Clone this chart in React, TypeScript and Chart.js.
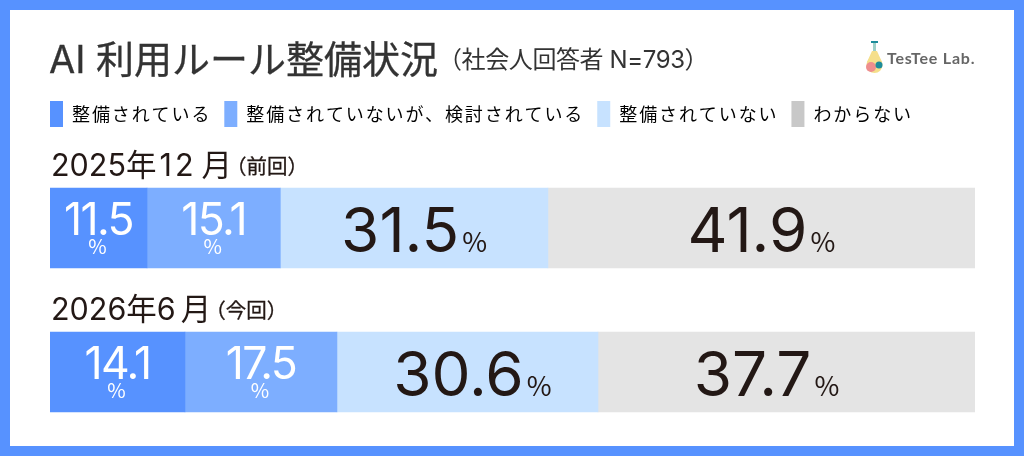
import React, { useEffect, useRef } from "react";
import { Chart, registerables } from "chart.js";

Chart.register(...registerables);

// Periods (categories)
const periods = ["2025年12月", "2026年6月"];
const periodNotes = ["（前回）", "（今回）"];
const seriesNames = ["整備されている", "整備されていないが、検討されている", "整備されていない", "わからない"];

// Segment lengths (share of the full bar, %).
// The reference's segments are not proportional to its printed figures.
const segYes = [10.49, 14.59];
const segConsidering = [14.41, 16.43];
const segNo = [28.93, 28.22];
const segUnknown = [46.17, 40.76];

// Figures printed on the bars
const printedYes = ["11.5", "14.1"];
const printedConsidering = ["15.1", "17.5"];
const printedNo = ["31.5", "30.6"];
const printedUnknown = ["41.9", "37.7"];

const barColors = ["#5792FF", "#7DAEFF", "#C7E2FF", "#E4E4E4"];
const legendColors = ["#5792FF", "#7DAEFF", "#C7E2FF", "#C8C8C8"];

const titleText = "AI 利用ルール整備状況";
const subtitleText = "（社会人回答者 N=793）";
const logoText = "TesTee Lab.";

// Horizontal nudges of the printed figures, per period and series
const labelShift = [
  [0, 0, 0, 0],
  [0, 0, 5, -20],
];

const LATIN = 'Inter, "Noto Sans CJK JP"';
const JP = '"Noto Sans CJK JP"';
const INK = "#231815";

const framePlugin = {
  id: "frame",
  beforeDraw(chart: any) {
    const { ctx, width, height } = chart;
    ctx.save();
    ctx.fillStyle = "#5792FF";
    ctx.fillRect(0, 0, width, height);
    ctx.fillStyle = "#FFFFFF";
    ctx.fillRect(10, 10, width - 20, height - 20);

    ctx.textBaseline = "alphabetic";
    ctx.textAlign = "left";
    ctx.fillStyle = "#333333";
    ctx.strokeStyle = "#333333";
    ctx.lineWidth = 0.3;
    ctx.letterSpacing = "0px";
    ctx.font = `400 38px ${LATIN}`;
    ctx.fillText(titleText, 49, 73);
    ctx.strokeText(titleText, 49, 73);
    ctx.font = `400 24px ${LATIN}`;
    ctx.letterSpacing = "-0.4px";
    ctx.fillText(subtitleText, 438, 68);
    ctx.letterSpacing = "0px";

    // logo
    ctx.fillStyle = "#1E8C9B";
    ctx.fillRect(871, 41, 7, 2);
    ctx.fillStyle = "#9FD0C8";
    ctx.fillRect(873, 43, 3, 8);
    ctx.fillStyle = "#F5DF8B";
    ctx.beginPath();
    ctx.moveTo(872, 51);
    ctx.lineTo(877, 51);
    ctx.lineTo(882, 62);
    ctx.lineTo(867, 62);
    ctx.fill();
    ctx.beginPath();
    ctx.arc(874.5, 65, 8, 0, Math.PI * 2);
    ctx.fill();
    ctx.fillStyle = "#EE8E8E";
    ctx.beginPath();
    ctx.arc(871, 67, 5, 0, Math.PI * 2);
    ctx.fill();
    ctx.fillStyle = "#1E8C9B";
    ctx.beginPath();
    ctx.arc(879, 65, 3.5, 0, Math.PI * 2);
    ctx.fill();
    ctx.fillStyle = "#666666";
    ctx.font = `700 16px Lato`;
    ctx.letterSpacing = "0.8px";
    ctx.fillText(logoText, 887, 64);
    ctx.restore();

    // Legend text is spaced out in the reference
    ctx.letterSpacing = "1.9px";
  },
  beforeLayout(chart: any) {
    chart.ctx.letterSpacing = "1.9px";
  },
  afterDatasetsDraw(chart: any) {
    const { ctx } = chart;
    const printed = [printedYes, printedConsidering, printedNo, printedUnknown];
    ctx.save();
    ctx.letterSpacing = "0px";
    ctx.textBaseline = "alphabetic";
    printed.forEach((values, s) => {
      const meta = chart.getDatasetMeta(s);
      values.forEach((text, i) => {
        const bar = meta.data[i] as any;
        const cx = (bar.x + bar.base) / 2 + labelShift[i][s];
        const top = bar.y - 40;
        if (s < 2) {
          ctx.fillStyle = "#FFFFFF";
          ctx.textAlign = "center";
          ctx.font = `400 44.5px ${LATIN}`;
          ctx.letterSpacing = "-1.6px";
          ctx.fillText(text, cx, top + 47);
          ctx.letterSpacing = "0px";
          ctx.font = `400 20px ${JP}`;
          ctx.fillText("%", cx - 1, top + 66);
        } else {
          ctx.fillStyle = INK;
          ctx.textAlign = "left";
          ctx.font = `400 62px ${LATIN}`;
          const w = ctx.measureText(text).width;
          ctx.font = `400 27px ${JP}`;
          const p = ctx.measureText("%").width;
          const x = cx - (w + 3 + p) / 2;
          ctx.font = `400 62px ${LATIN}`;
          ctx.fillText(text, x, top + 64);
          ctx.font = `400 27px ${JP}`;
          ctx.fillText("%", x + w + 3, top + 64);
        }
      });
    });
    const y = chart.scales.y;
    periods.forEach((label, i) => {
      const baseline = y.getPixelForValue(i) - 52;
      ctx.textAlign = "left";
      ctx.fillStyle = INK;
      ctx.strokeStyle = INK;
      ctx.lineWidth = 0.3;
      ctx.font = `400 30.5px ${LATIN}`;
      let cursor = 51;
      (label.match(/\d+|\D/g) || []).forEach((run) => {
        if (run === "月") cursor += 5;
        if (run.length === 2) {
          // the two-digit month is set wider apart in the reference
          cursor += 3;
          ctx.letterSpacing = "3px";
        }
        ctx.fillText(run, cursor, baseline);
        cursor += ctx.measureText(run).width;
        ctx.letterSpacing = "0px";
      });
      ctx.font = `400 20.5px ${JP}`;
      const noteX = cursor - 6;
      ctx.fillText(periodNotes[i], noteX, baseline - 2);
      ctx.strokeText(periodNotes[i], noteX, baseline - 2);
    });
    ctx.restore();
  },
};

export default function App() {
  const ref = useRef<HTMLCanvasElement>(null);
  useEffect(() => {
    document.body.style.margin = "0";
    const segs = [segYes, segConsidering, segNo, segUnknown];
    const chart = new Chart(ref.current as HTMLCanvasElement, {
      type: "bar",
      data: {
        labels: periods,
        datasets: seriesNames.map((name, s) => ({
          label: name,
          data: segs[s],
          backgroundColor: barColors[s],
          borderWidth: 0,
          barThickness: 80,
        })),
      },
      options: {
        indexAxis: "y",
        responsive: false,
        animation: false,
        devicePixelRatio: 1,
        layout: { padding: { left: 37, right: 49, top: 88, bottom: 12 } },
        scales: {
          x: {
            stacked: true,
            min: 0,
            max: 100,
            position: "top",
            grid: { display: false },
            border: { display: false },
            ticks: { display: false },
            afterFit(s: any) {
              s.height = 19;
            },
          },
          y: {
            stacked: true,
            grid: { display: false },
            border: { display: false },
            ticks: { display: false },
            afterFit(s: any) {
              s.width = 13;
            },
          },
        },
        plugins: {
          tooltip: { enabled: false },
          legend: {
            position: "top",
            align: "start",
            labels: {
              boxWidth: 13,
              boxHeight: 26,
              padding: 13,
              color: "#333333",
              font: { family: JP, size: 18 },
              generateLabels: () =>
                seriesNames.map((name, s) => ({
                  text: name,
                  fillStyle: legendColors[s],
                  strokeStyle: legendColors[s],
                  lineWidth: 0,
                  datasetIndex: s,
                })),
            },
          },
        },
      } as any,
      plugins: [framePlugin],
    });
    return () => chart.destroy();
  }, []);
  return <canvas ref={ref} width={1024} height={456} style={{ display: "block" }} />;
}
